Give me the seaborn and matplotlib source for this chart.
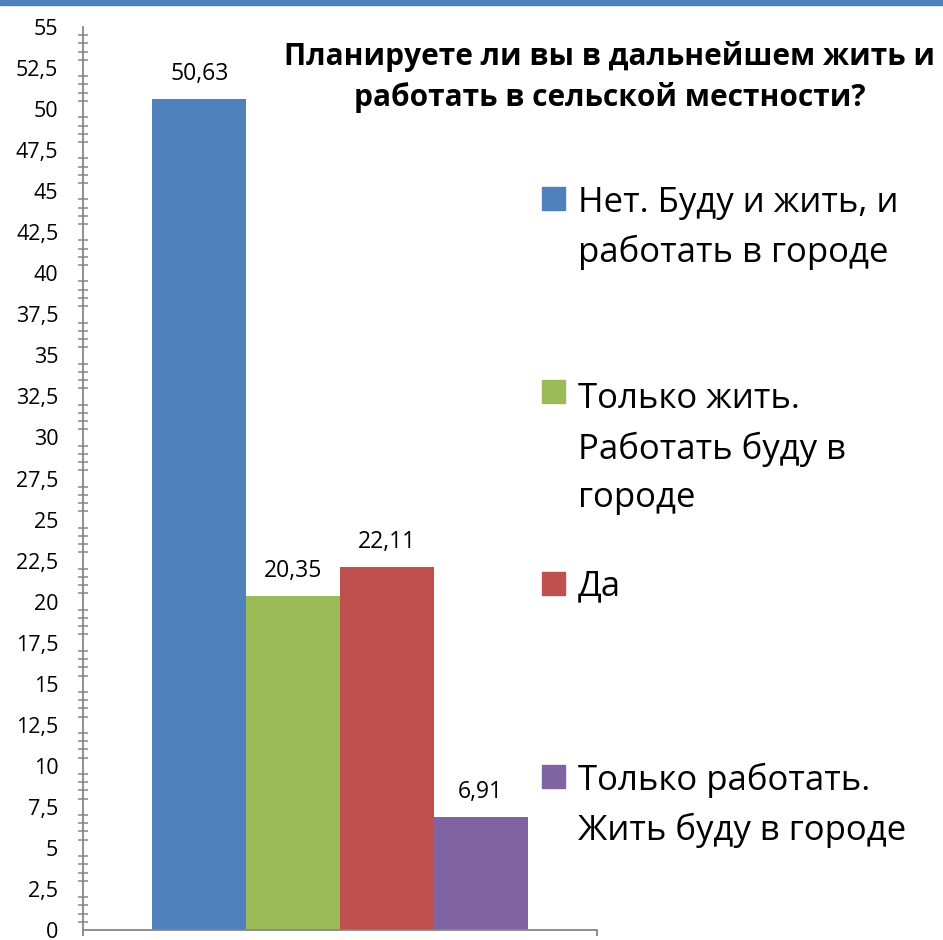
import pandas as pd
import matplotlib.pyplot as plt
import seaborn as sns
from matplotlib.ticker import MultipleLocator, FuncFormatter
from matplotlib.patches import Rectangle

# данные опроса
categories = ["Нет. Буду и жить, и\nработать в городе",
              "Только жить.\nРаботать буду в\nгороде",
              "Да",
              "Только работать.\nЖить буду в городе"]
values = [50.63, 20.35, 22.11, 6.91]
colors = ["#4F81BD", "#9BBB59", "#C0504D", "#8064A2"]
title = "Планируете ли вы в дальнейшем жить и\nработать в сельской местности?"

df = pd.DataFrame({"group": [""] * len(values), "Ответ": categories, "Процент": values})

sns.set_style("white")
plt.rcParams["font.family"] = ["Open Sans", "DejaVu Sans"]
plt.rcParams["text.color"] = "black"

W, H = 943, 940
fig = plt.figure(figsize=(W / 100, H / 100), dpi=100)
ax = fig.add_axes([83 / W, 1 - 930 / H, (597 - 83) / W, (930 - 27) / H])

sns.barplot(data=df, x="group", y="Процент", hue="Ответ", hue_order=categories,
            palette=dict(zip(categories, colors)), width=0.73, saturation=1,
            linewidth=0, legend=False, ax=ax)

for c, v in zip(ax.containers, values):
    ax.bar_label(c, labels=[f"{v:.2f}".replace(".", ",")], padding=9, fontsize=16.5,
                 color="black")

ax.set_xlim(-0.5, 0.5)
ax.set_ylim(0, 55)
ax.yaxis.set_major_locator(MultipleLocator(2.5))
ax.yaxis.set_minor_locator(MultipleLocator(0.5))
ax.yaxis.set_major_formatter(FuncFormatter(lambda v, p: f"{v:g}".replace(".", ",")))
ax.tick_params(axis="y", which="major", direction="inout", length=11.5, width=1.3,
               color="#868686", labelsize=15.5, labelcolor="black", pad=12)
ax.tick_params(axis="y", which="minor", direction="inout", length=7, width=1.1,
               color="#868686", left=True)
ax.set_xticks([-0.5, 0.5])
ax.set_xticklabels(["", ""])
ax.tick_params(axis="x", direction="out", length=4, width=1.3, color="#868686", bottom=True)
ax.set_xlabel("")
ax.set_ylabel("")
for s in ["top", "right"]:
    ax.spines[s].set_visible(False)
for s in ["left", "bottom"]:
    ax.spines[s].set_color("#868686")
    ax.spines[s].set_linewidth(1.3)

# заголовок (базовая линия второй строки)
fig.text(610 / W, 1 - 106 / H, title, ha="center", va="baseline", fontsize=21.5,
         fontweight="bold", linespacing=1.41)

# легенда: квадрат по базовой линии первой строки
step = 52
baselines = [210, 403, 595, 788]
for lab, col, b in zip(categories, colors, baselines):
    n = lab.count("\n")
    fig.patches.append(Rectangle((542 / W, 1 - b / H), 23 / W, 23 / H,
                                 transform=fig.transFigure, color=col))
    fig.text(578 / W, 1 - (b + n * step) / H, lab, ha="left", va="baseline",
             fontsize=25, linespacing=1.55)

# синяя полоса сверху
fig.patches.append(Rectangle((0, 1 - 5 / H), 1, 5 / H, transform=fig.transFigure,
                             color="#4F81BD"))

fig.savefig("out.png", dpi=100)
